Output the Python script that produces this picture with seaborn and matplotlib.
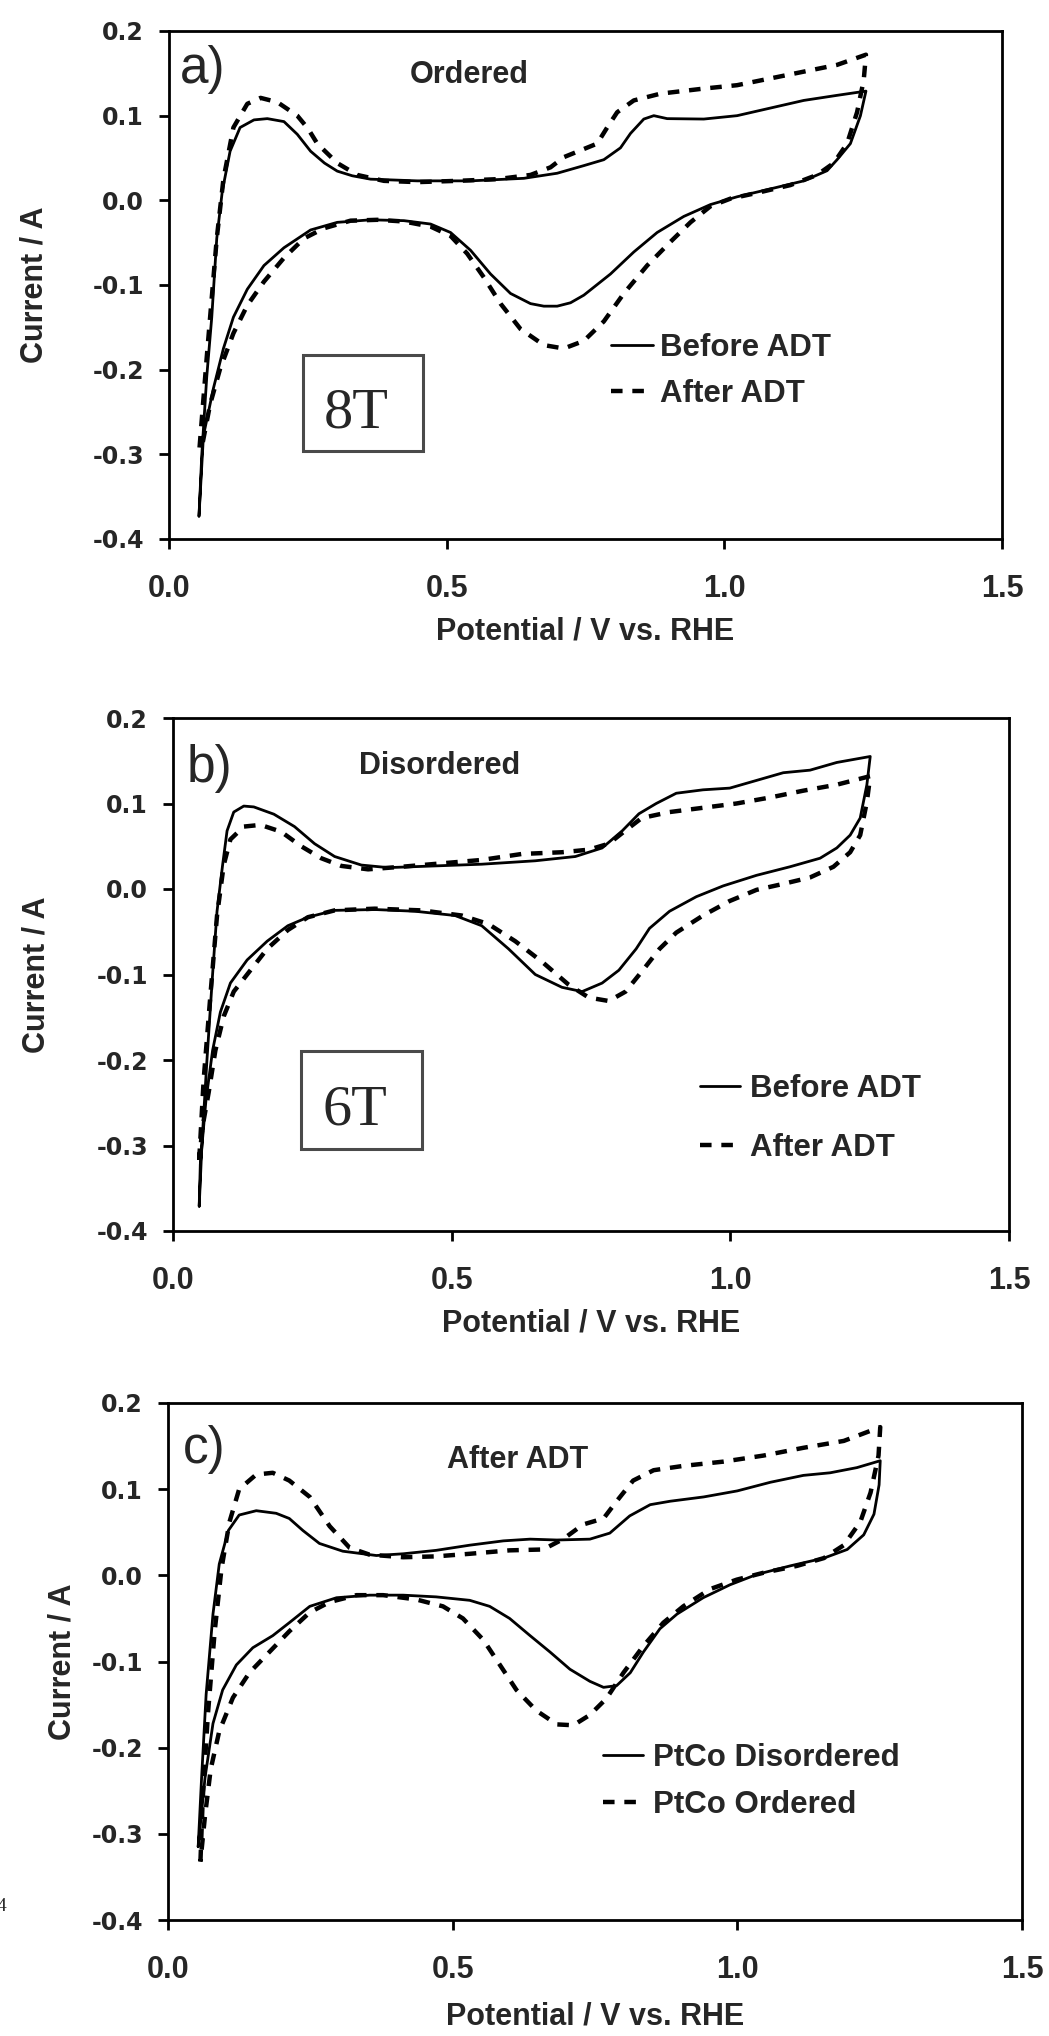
import numpy as np
import pandas as pd
import matplotlib
matplotlib.use("Agg")
import matplotlib.pyplot as plt
import seaborn as sns
from matplotlib.patches import Rectangle

# ---------------- data ----------------
x_ticks = [0.0, 0.5, 1.0, 1.5]
x_tick_labels = ["0.0", "0.5", "1.0", "1.5"]
y_ticks = [0.2, 0.1, 0.0, -0.1, -0.2, -0.3, -0.4]
y_tick_labels = ["0.2", "0.1", "0.0", "-0.1", "-0.2", "-0.3", "-0.4"]

# panel a) Ordered (8T)
a_before_E = [0.054, 0.059, 0.068, 0.077, 0.086, 0.096, 0.110, 0.128, 0.153, 0.177,
              0.207, 0.231, 0.255, 0.280, 0.303, 0.330, 0.363, 0.447, 0.543, 0.639,
              0.699, 0.747, 0.783, 0.813, 0.831, 0.855, 0.873, 0.897, 0.963, 1.023,
              1.083, 1.143, 1.203, 1.255,
              1.245, 1.227, 1.203, 1.185, 1.143, 1.083, 1.023, 0.975, 0.927, 0.879,
              0.837, 0.795, 0.747, 0.723, 0.699, 0.675, 0.651, 0.615, 0.579, 0.543,
              0.507, 0.471, 0.423, 0.363, 0.303, 0.255, 0.207, 0.171, 0.141, 0.116,
              0.098, 0.080, 0.062, 0.054]
a_before_I = [-0.373, -0.301, -0.208, -0.138, -0.045, 0.011, 0.058, 0.086, 0.095, 0.0965,
              0.093, 0.078, 0.058, 0.044, 0.0345, 0.029, 0.025, 0.023, 0.023, 0.026,
              0.032, 0.041, 0.048, 0.062, 0.079, 0.096, 0.100, 0.0965, 0.096, 0.100,
              0.109, 0.118, 0.124, 0.129,
              0.0998, 0.067, 0.048, 0.035, 0.023, 0.0135, 0.0042, -0.005, -0.019, -0.038,
              -0.061, -0.087, -0.112, -0.121, -0.125, -0.125, -0.122, -0.110, -0.087, -0.059,
              -0.038, -0.028, -0.024, -0.023, -0.026, -0.035, -0.056, -0.077, -0.105, -0.138,
              -0.175, -0.222, -0.278, -0.373]
a_after_E = [0.055, 0.068, 0.086, 0.098, 0.116, 0.141, 0.165, 0.195, 0.231, 0.250,
             0.267, 0.303, 0.339, 0.387, 0.447, 0.519, 0.591, 0.651, 0.687, 0.711,
             0.741, 0.771, 0.789, 0.807, 0.837, 0.885, 0.963, 1.023, 1.083, 1.143,
             1.203, 1.255,
             1.251, 1.239, 1.221, 1.197, 1.167, 1.119, 1.059, 1.011, 0.975, 0.939,
             0.903, 0.861, 0.819, 0.783, 0.747, 0.711, 0.675, 0.633, 0.597, 0.567,
             0.537, 0.507, 0.471, 0.423, 0.375, 0.327, 0.279, 0.243, 0.207, 0.171,
             0.141, 0.116, 0.092, 0.074, 0.059]
a_after_I = [-0.292, -0.185, -0.045, 0.025, 0.086, 0.114, 0.121, 0.116, 0.100, 0.085,
             0.067, 0.044, 0.030, 0.023, 0.0215, 0.023, 0.025, 0.030, 0.039, 0.051,
             0.059, 0.067, 0.086, 0.104, 0.118, 0.126, 0.132, 0.136, 0.144, 0.152,
             0.160, 0.172,
             0.142, 0.104, 0.067, 0.044, 0.030, 0.018, 0.0088, 0.002, -0.007, -0.026,
             -0.049, -0.077, -0.110, -0.143, -0.166, -0.175, -0.171, -0.152, -0.122, -0.091,
             -0.063, -0.042, -0.031, -0.025, -0.023, -0.024, -0.033, -0.045, -0.068, -0.096,
             -0.124, -0.157, -0.199, -0.241, -0.292]

# panel b) Disordered (6T)
b_before_E = [0.047, 0.052, 0.061, 0.071, 0.079, 0.089, 0.097, 0.109, 0.127, 0.145,
              0.181, 0.218, 0.254, 0.290, 0.338, 0.386, 0.470, 0.554, 0.650, 0.722,
              0.770, 0.806, 0.836, 0.867, 0.903, 0.951, 0.999, 1.047, 1.095, 1.143,
              1.191, 1.251,
              1.245, 1.233, 1.215, 1.191, 1.161, 1.107, 1.047, 0.987, 0.939, 0.891,
              0.855, 0.831, 0.800, 0.770, 0.734, 0.698, 0.650, 0.602, 0.554, 0.506,
              0.434, 0.362, 0.290, 0.242, 0.206, 0.169, 0.133, 0.103, 0.085, 0.071,
              0.059, 0.049, 0.047]
b_before_I = [-0.371, -0.297, -0.199, -0.100, -0.026, 0.028, 0.068, 0.090, 0.097, 0.096,
              0.0875, 0.073, 0.053, 0.038, 0.028, 0.025, 0.027, 0.029, 0.033, 0.038,
              0.048, 0.068, 0.088, 0.100, 0.112, 0.116, 0.118, 0.127, 0.136, 0.139,
              0.148, 0.155,
              0.122, 0.083, 0.063, 0.048, 0.036, 0.026, 0.016, 0.0036, -0.009, -0.026,
              -0.046, -0.070, -0.095, -0.110, -0.120, -0.115, -0.100, -0.070, -0.043, -0.031,
              -0.026, -0.024, -0.025, -0.033, -0.043, -0.061, -0.083, -0.110, -0.144, -0.189,
              -0.248, -0.322, -0.371]
b_after_E = [0.047, 0.055, 0.067, 0.079, 0.091, 0.103, 0.127, 0.157, 0.194, 0.230,
             0.266, 0.302, 0.350, 0.410, 0.482, 0.554, 0.626, 0.698, 0.746, 0.782,
             0.811, 0.841, 0.891, 0.951, 1.011, 1.071, 1.131, 1.191, 1.251,
             1.245, 1.233, 1.215, 1.185, 1.143, 1.095, 1.047, 0.999, 0.951, 0.903,
             0.873, 0.843, 0.812, 0.782, 0.746, 0.710, 0.662, 0.614, 0.566, 0.518,
             0.446, 0.362, 0.290, 0.242, 0.206, 0.169, 0.139, 0.109, 0.091, 0.076,
             0.064, 0.053, 0.047]
b_after_I = [-0.317, -0.223, -0.125, -0.031, 0.028, 0.058, 0.073, 0.075, 0.067, 0.050,
             0.036, 0.027, 0.023, 0.026, 0.030, 0.034, 0.041, 0.043, 0.046, 0.053,
             0.068, 0.083, 0.090, 0.095, 0.100, 0.107, 0.115, 0.122, 0.132,
             0.102, 0.063, 0.043, 0.026, 0.0135, 0.006, -0.001, -0.014, -0.031, -0.051,
             -0.070, -0.095, -0.120, -0.131, -0.127, -0.112, -0.085, -0.061, -0.041, -0.031,
             -0.025, -0.023, -0.025, -0.033, -0.048, -0.070, -0.095, -0.120, -0.149, -0.189,
             -0.238, -0.278, -0.317]

# panel c) After ADT
c_dis_E = [0.053, 0.059, 0.067, 0.079, 0.090, 0.106, 0.125, 0.155, 0.190, 0.213,
           0.237, 0.266, 0.307, 0.366, 0.413, 0.471, 0.530, 0.589, 0.636, 0.683,
           0.741, 0.776, 0.811, 0.847, 0.882, 0.941, 1.000, 1.058, 1.116, 1.163,
           1.210, 1.251,
           1.249, 1.240, 1.222, 1.193, 1.152, 1.093, 1.034, 0.987, 0.940, 0.894,
           0.864, 0.835, 0.812, 0.788, 0.765, 0.741, 0.706, 0.671, 0.636, 0.600,
           0.565, 0.530, 0.471, 0.413, 0.354, 0.296, 0.249, 0.213, 0.184, 0.149,
           0.120, 0.096, 0.079, 0.065, 0.053]
c_dis_I = [-0.315, -0.235, -0.138, -0.045, 0.013, 0.052, 0.070, 0.075, 0.072, 0.066,
           0.052, 0.037, 0.028, 0.023, 0.025, 0.029, 0.035, 0.040, 0.042, 0.041,
           0.042, 0.049, 0.069, 0.082, 0.086, 0.091, 0.098, 0.108, 0.116, 0.119,
           0.125, 0.133,
           0.105, 0.071, 0.047, 0.030, 0.020, 0.011, 0.001, -0.011, -0.026, -0.045,
           -0.062, -0.089, -0.113, -0.128, -0.130, -0.123, -0.109, -0.089, -0.070, -0.050,
           -0.036, -0.029, -0.025, -0.023, -0.023, -0.026, -0.036, -0.055, -0.070, -0.084,
           -0.104, -0.133, -0.172, -0.235, -0.315]
c_ord_E = [0.057, 0.061, 0.070, 0.082, 0.094, 0.108, 0.125, 0.155, 0.184, 0.213,
           0.249, 0.284, 0.319, 0.354, 0.413, 0.471, 0.530, 0.600, 0.659, 0.694,
           0.729, 0.765, 0.788, 0.817, 0.853, 0.905, 0.976, 1.046, 1.116, 1.187, 1.251,
           1.248, 1.234, 1.216, 1.187, 1.152, 1.105, 1.046, 0.999, 0.952, 0.905,
           0.870, 0.835, 0.800, 0.770, 0.741, 0.712, 0.683, 0.647, 0.612, 0.583,
           0.554, 0.518, 0.483, 0.436, 0.378, 0.331, 0.284, 0.249, 0.213, 0.178,
           0.143, 0.114, 0.090, 0.075, 0.065, 0.057]
c_ord_I = [-0.332, -0.259, -0.162, -0.065, 0.008, 0.062, 0.100, 0.117, 0.119, 0.110,
           0.091, 0.057, 0.032, 0.024, 0.021, 0.022, 0.025, 0.029, 0.030, 0.042,
           0.059, 0.066, 0.086, 0.110, 0.122, 0.127, 0.132, 0.139, 0.148, 0.156, 0.172,
           0.139, 0.096, 0.062, 0.035, 0.020, 0.011, 0.003, -0.005, -0.016, -0.036,
           -0.055, -0.082, -0.113, -0.143, -0.162, -0.174, -0.173, -0.157, -0.133, -0.104,
           -0.075, -0.050, -0.036, -0.028, -0.023, -0.023, -0.031, -0.043, -0.065, -0.089,
           -0.113, -0.142, -0.181, -0.225, -0.279, -0.332]

panel_letters = ["a)", "b)", "c)"]
panel_titles = ["Ordered", "Disordered", "After ADT"]
box_labels = ["8T", "6T", None]
legend_labels = [["Before ADT", "After ADT"], ["Before ADT", "After ADT"],
                 ["PtCo Disordered", "PtCo Ordered"]]
series = [[(a_before_E, a_before_I), (a_after_E, a_after_I)],
          [(b_before_E, b_before_I), (b_after_E, b_after_I)],
          [(c_dis_E, c_dis_I), (c_ord_E, c_ord_I)]]

# ---------------- style / layout ----------------
sns.set_theme(style="ticks")
plt.rcParams["font.family"] = ["Liberation Sans", "DejaVu Sans"]
plt.rcParams["axes.edgecolor"] = "black"
plt.rcParams["axes.linewidth"] = 2.0

W, H = 1049, 2036
fig = plt.figure(figsize=(W / 100, H / 100), dpi=100)
fig.patch.set_facecolor("white")

def fig_rect(left, right, top, bottom):
    return [left / W, 1 - bottom / H, (right - left) / W, (bottom - top) / H]

layouts = [
    dict(rect=fig_rect(169, 1002, 31, 539), ylab_x=-0.144, letter=(0.013, 0.898),
         title=(0.361, 0.913), leg=(0.531, 0.405), leg_sp=0.50, hl=1.34, htp=0.22,
         box=(0.161, 0.173, 0.144, 0.189), boxtext=(0.225, 0.219), xpad=9),
    dict(rect=fig_rect(173, 1009, 718, 1231), ylab_x=-0.145, letter=(0.016, 0.875),
         title=(0.319, 0.906), leg=(0.630, 0.306), leg_sp=0.92, hl=1.28, htp=0.32,
         box=(0.153, 0.160, 0.145, 0.191), boxtext=(0.218, 0.207), xpad=9),
    dict(rect=fig_rect(168, 1022, 1403, 1920), ylab_x=-0.106, letter=(0.018, 0.884),
         title=(0.409, 0.890), leg=(0.509, 0.343), leg_sp=0.54, hl=1.28, htp=0.32,
         box=None, boxtext=None, xpad=12),
]

bold = dict(family="Liberation Sans", weight="bold")

for i, lay in enumerate(layouts):
    ax = fig.add_axes(lay["rect"])
    ax.set_facecolor("white")
    handles = []
    for j, (E, I) in enumerate(series[i]):
        sns.lineplot(x=np.array(E), y=np.array(I), sort=False, estimator=None,
                     color="black", lw=2.0 if j == 0 else 3.2, ax=ax)
        line = ax.get_lines()[-1]
        if j == 1:
            line.set_dashes([2.6, 2.2])
        line.set_solid_joinstyle("round")
        handles.append(line)

    ax.set_xlim(0, 1.5)
    ax.set_ylim(-0.4, 0.2)
    ax.set_xticks(x_ticks)
    ax.set_xticklabels(x_tick_labels, fontsize=22, **bold)
    ax.set_yticks(y_ticks)
    ax.set_yticklabels(y_tick_labels, fontsize=17, family="DejaVu Sans", weight="bold")
    ax.tick_params(axis="x", direction="out", length=7, width=2, pad=18, color="black")
    ax.tick_params(axis="y", direction="out", length=7, width=2, pad=11, color="black")
    for sp in ax.spines.values():
        sp.set_visible(True)
        sp.set_linewidth(2.0)
        sp.set_color("black")

    ax.set_xlabel("Potential / V vs. RHE", fontsize=22, labelpad=lay["xpad"], **bold)
    ax.set_ylabel("Current / A", fontsize=22, **bold)
    ax.yaxis.set_label_coords(lay["ylab_x"], 0.5)

    ax.text(lay["letter"][0], lay["letter"][1], panel_letters[i], transform=ax.transAxes,
            ha="left", va="baseline", fontsize=37, family="Liberation Sans")
    ax.text(lay["title"][0], lay["title"][1], panel_titles[i], transform=ax.transAxes,
            ha="center", va="center", fontsize=22, **bold)

    if lay["box"] is not None:
        bx, by, bw, bh = lay["box"]
        ax.add_patch(Rectangle((bx, by), bw, bh, transform=ax.transAxes, fill=False,
                               edgecolor="#4a4a4a", linewidth=2.2))
        ax.text(lay["boxtext"][0], lay["boxtext"][1], box_labels[i], transform=ax.transAxes,
                ha="center", va="baseline", fontsize=42, family="Liberation Serif")

    ax.legend(handles, legend_labels[i], loc="upper left",
              bbox_to_anchor=lay["leg"], frameon=False, borderpad=0,
              borderaxespad=0, handlelength=lay["hl"], handletextpad=lay["htp"],
              labelspacing=lay["leg_sp"],
              prop=dict(family="Liberation Sans", weight="bold", size=22.5))

# stray page number fragment at the left edge
fig.text(-0.003, 0.0614, "4", fontsize=14, family="Liberation Serif")

fig.savefig("out.png", dpi=100, facecolor="white")
